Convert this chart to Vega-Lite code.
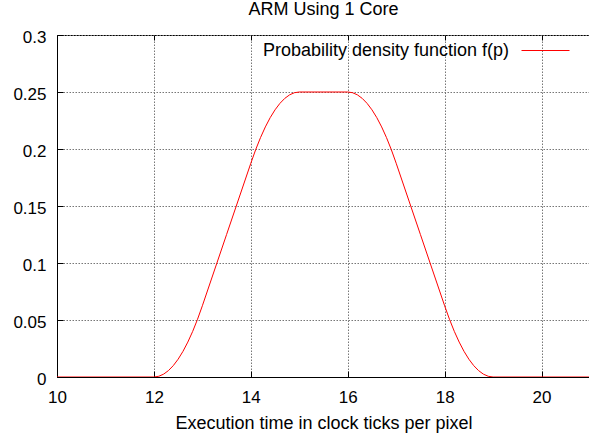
{
  "$schema": "https://vega.github.io/schema/vega-lite/v6.json",
  "width": 533,
  "height": 342,
  "autosize": "none",
  "padding": {"left": 57, "top": 35, "right": 0, "bottom": 60},
  "background": "white",
  "title": {"text": "ARM Using 1 Core", "font": "Liberation Sans", "fontSize": 18, "fontWeight": "normal", "color": "black", "offset": 7, "anchor": "middle"},
  "config": {
    "view": {"stroke": "black", "strokeWidth": 1},
    "axis": {
      "labelFont": "Liberation Sans", "labelFontSize": 17, "labelColor": "black",
      "titleFont": "Liberation Sans", "titleFontSize": 18, "titleFontWeight": "normal", "titleColor": "black",
      "domainColor": "black", "domainWidth": 1, "tickColor": "black", "tickSize": -6, "tickWidth": 1,
      "gridColor": "#777777", "gridDash": [1.5, 1.5], "gridWidth": 1, "gridOpacity": 1
    },
    "legend": {"labelFont": "Liberation Sans", "labelFontSize": 18, "labelColor": "black"}
  },
  "data": {"values": [
    {"x": 10, "y": 0, "series": "Probability density function f(p)"},
    {"x": 12, "y": 0, "series": "Probability density function f(p)"},
    {"x": 12.1, "y": 0.000625, "series": "Probability density function f(p)"},
    {"x": 12.2, "y": 0.0025, "series": "Probability density function f(p)"},
    {"x": 12.3, "y": 0.005625, "series": "Probability density function f(p)"},
    {"x": 12.4, "y": 0.01, "series": "Probability density function f(p)"},
    {"x": 12.5, "y": 0.015625, "series": "Probability density function f(p)"},
    {"x": 12.6, "y": 0.0225, "series": "Probability density function f(p)"},
    {"x": 12.7, "y": 0.030625, "series": "Probability density function f(p)"},
    {"x": 12.8, "y": 0.04, "series": "Probability density function f(p)"},
    {"x": 12.9, "y": 0.050625, "series": "Probability density function f(p)"},
    {"x": 13, "y": 0.0625, "series": "Probability density function f(p)"},
    {"x": 13.5, "y": 0.125, "series": "Probability density function f(p)"},
    {"x": 14, "y": 0.1875, "series": "Probability density function f(p)"},
    {"x": 14.1, "y": 0.199375, "series": "Probability density function f(p)"},
    {"x": 14.2, "y": 0.21, "series": "Probability density function f(p)"},
    {"x": 14.3, "y": 0.219375, "series": "Probability density function f(p)"},
    {"x": 14.4, "y": 0.2275, "series": "Probability density function f(p)"},
    {"x": 14.5, "y": 0.234375, "series": "Probability density function f(p)"},
    {"x": 14.6, "y": 0.24, "series": "Probability density function f(p)"},
    {"x": 14.7, "y": 0.244375, "series": "Probability density function f(p)"},
    {"x": 14.8, "y": 0.2475, "series": "Probability density function f(p)"},
    {"x": 14.9, "y": 0.249375, "series": "Probability density function f(p)"},
    {"x": 15, "y": 0.25, "series": "Probability density function f(p)"},
    {"x": 16, "y": 0.25, "series": "Probability density function f(p)"},
    {"x": 16.1, "y": 0.249375, "series": "Probability density function f(p)"},
    {"x": 16.2, "y": 0.2475, "series": "Probability density function f(p)"},
    {"x": 16.3, "y": 0.244375, "series": "Probability density function f(p)"},
    {"x": 16.4, "y": 0.24, "series": "Probability density function f(p)"},
    {"x": 16.5, "y": 0.234375, "series": "Probability density function f(p)"},
    {"x": 16.6, "y": 0.2275, "series": "Probability density function f(p)"},
    {"x": 16.7, "y": 0.219375, "series": "Probability density function f(p)"},
    {"x": 16.8, "y": 0.21, "series": "Probability density function f(p)"},
    {"x": 16.9, "y": 0.199375, "series": "Probability density function f(p)"},
    {"x": 17, "y": 0.1875, "series": "Probability density function f(p)"},
    {"x": 17.5, "y": 0.125, "series": "Probability density function f(p)"},
    {"x": 18, "y": 0.0625, "series": "Probability density function f(p)"},
    {"x": 18.1, "y": 0.050625, "series": "Probability density function f(p)"},
    {"x": 18.2, "y": 0.04, "series": "Probability density function f(p)"},
    {"x": 18.3, "y": 0.030625, "series": "Probability density function f(p)"},
    {"x": 18.4, "y": 0.0225, "series": "Probability density function f(p)"},
    {"x": 18.5, "y": 0.015625, "series": "Probability density function f(p)"},
    {"x": 18.6, "y": 0.01, "series": "Probability density function f(p)"},
    {"x": 18.7, "y": 0.005625, "series": "Probability density function f(p)"},
    {"x": 18.8, "y": 0.0025, "series": "Probability density function f(p)"},
    {"x": 18.9, "y": 0.000625, "series": "Probability density function f(p)"},
    {"x": 19, "y": 0, "series": "Probability density function f(p)"},
    {"x": 21, "y": 0, "series": "Probability density function f(p)"}
  ]},
  "resolve": {"axis": {"x": "independent"}},
  "layer": [
    {
      "mark": {"type": "line", "strokeWidth": 1, "clip": true},
      "encoding": {
        "x": {"field": "x", "type": "quantitative", "scale": {"domain": [10, 21], "nice": false, "zero": false},
          "axis": {"orient": "bottom", "values": [10, 12, 14, 16, 18, 20], "title": "Execution time in clock ticks per pixel", "labelPadding": 18, "titlePadding": 9, "labelFlush": false, "grid": true}},
        "y": {"field": "y", "type": "quantitative", "scale": {"domain": [0, 0.3], "nice": false},
          "axis": {"values": [0, 0.05, 0.1, 0.15, 0.2, 0.25, 0.3], "format": ".2~f", "title": null, "labelPadding": 17, "labelOffset": 2, "labelFlush": false, "grid": true}},
        "color": {"field": "series", "type": "nominal", "scale": {"range": ["#ff0000"]},
          "legend": {"title": null, "orient": "none", "legendX": 464, "legendY": -9, "symbolType": "stroke", "symbolSize": 2304, "symbolStrokeWidth": 1, "labelAlign": "right", "labelOffset": -61, "labelLimit": 400, "padding": 0}}
      }
    },
    {
      "mark": {"type": "line", "opacity": 0},
      "encoding": {
        "x": {"field": "x", "type": "quantitative",
          "axis": {"orient": "top", "values": [10, 12, 14, 16, 18, 20], "title": null, "labels": false, "grid": false, "domain": false, "ticks": true, "tickSize": -5}},
        "y": {"field": "y", "type": "quantitative"}
      }
    }
  ]
}
